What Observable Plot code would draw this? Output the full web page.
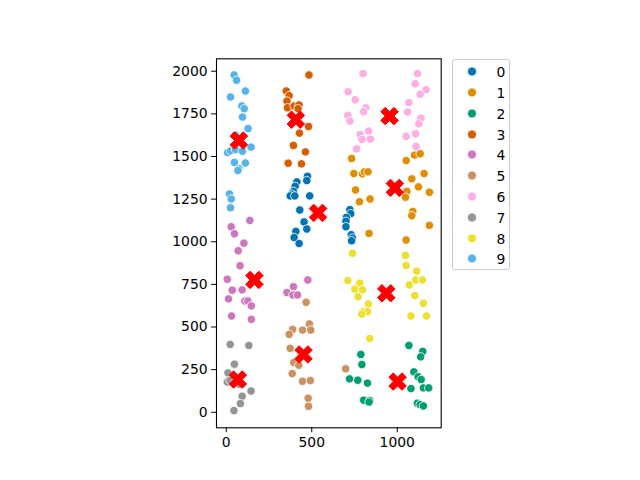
<!DOCTYPE html>
<html>
<head>
<meta charset="utf-8">
<script src="https://cdn.jsdelivr.net/npm/d3@7"></script>
<script src="https://cdn.jsdelivr.net/npm/@observablehq/plot@0.6"></script>
<style>
  html, body { margin: 0; padding: 0; background: white; }
  #wrap { position: relative; width: 640px; height: 480px; font-family: "DejaVu Sans", sans-serif; }
  #legend { position: absolute; left: 451.5px; top: 59px; width: 58px; height: 211px;
            border: 1px solid #cccccc; border-radius: 3px; background: rgba(255,255,255,0.8); box-sizing: border-box; }
  .row { position: absolute; left: 0; height: 20px; width: 58px; }
  .row svg { position: absolute; left: 10px; top: 0; }
  .row span { position: absolute; left: 44px; top: 1px; font-size: 13.9px; line-height: 18px; color: #000; }
</style>
</head>
<body>
<div id="wrap"><div id="legend"></div></div>
<script>
const clusterNames = ["0","1","2","3","4","5","6","7","8","9"];
const clusterColors = ["#0173b2","#de8f05","#029e73","#d55e00","#cc78bc","#ca9161","#fbafe4","#949494","#ece133","#56b4e9"];

const cluster0 = [[475,1384],[471,1359],[413,1351],[403,1325],[393,1296],[382,1280],[374,1269],[401,1269],[488,1269],[430,1186],[455,1116],[471,1075],[407,1061],[397,1025],[426,990],
  [723,1188],[728,1165],[703,1143],[700,1120],[700,1088],[731,1041],[738,1022],[733,1006]];
const cluster1 = [[733,1488],[746,1400],[797,1398],[808,1410],[829,1410],[756,1304],[841,1251],[779,1235],[835,1049],
  [1052,1476],[1101,1508],[1134,1516],[1157,1400],[1085,1369],[1124,1322],[1056,1296],[1048,1261],[1188,1290],[1091,1178],[1085,1153],[1188,1096],[1052,1010]];
const cluster2 = [[1068,392],[1149,357],[1137,325],[787,339],[793,280],[721,196],[769,188],[826,171],[804,71],[839,69],[835,60],
  [1097,237],[1122,208],[1140,192],[1080,139],[1153,143],[1184,143],[1118,53],[1134,45],[1153,37]];
const cluster3 = [[484,1978],[351,1884],[368,1857],[355,1825],[358,1786],[397,1796],[426,1802],[420,1780],[481,1676],[428,1637],[393,1565],[463,1527],[362,1461],[440,1457]];
const cluster4 = [[138,1125],[29,1088],[48,1047],[103,992],[70,947],[81,859],[6,780],[35,716],[93,718],[13,665],[109,653],[126,653],[147,624],[31,565],[147,545],
  [393,737],[355,702],[390,688],[417,688],[477,776]];
const cluster5 = [[467,645],[486,518],[494,482],[446,482],[388,486],[368,457],[374,375],[395,292],[424,276],[386,227],[446,182],[492,186],[479,82],[481,35],[698,255]];
const cluster6 = [[800,1986],[713,1880],[754,1833],[816,1786],[804,1763],[711,1741],[723,1708],[833,1649],[783,1629],[794,1600],[843,1602],[762,1545],
  [1118,1986],[1105,1927],[1169,1892],[1134,1865],[1068,1816],[1060,1761],[1138,1724],[1126,1692],[1107,1633],[1052,1618],[1110,1559]];
const cluster7 = [[23,398],[132,392],[48,282],[10,231],[6,178],[22,188],[50,170],[75,165],[145,125],[93,94],[83,51],[45,10]];
const cluster8 = [[738,933],[711,772],[781,757],[752,722],[797,718],[771,678],[831,635],[800,590],[826,590],[793,576],[839,433],
  [1048,920],[1052,861],[1114,828],[1107,776],[1147,776],[1070,747],[1103,684],[1153,639],[1080,565],[1171,565]];
const cluster9 = [[46,1978],[60,1947],[112,1884],[25,1849],[91,1796],[105,1780],[95,1731],[128,1664],[54,1625],[8,1523],[25,1533],[54,1541],[94,1531],[145,1555],
  [48,1465],[112,1462],[74,1429],[68,1418],[19,1280],[29,1251],[25,1200]];

const centroidX = [537, 986, 1002, 407, 165, 452, 955, 68, 936, 74];
const centroidY = [1169, 1316, 180, 1716, 776, 339, 1737, 192, 698, 1594];

const xTicks = [0, 500, 1000];
const yTicks = [0, 250, 500, 750, 1000, 1250, 1500, 1750, 2000];

const clusters = [cluster0, cluster1, cluster2, cluster3, cluster4, cluster5, cluster6, cluster7, cluster8, cluster9];
const points = clusters.flatMap((pts, i) => pts.map(([x, y]) => ({x, y, c: clusterNames[i]})));
const centroids = centroidX.map((x, i) => ({x, y: centroidY[i]}));

// matplotlib-like filled "X" marker
const W = 17.5;
const xPoly = [[-0.25,-0.5],[0,-0.25],[0.25,-0.5],[0.5,-0.25],[0.25,0],[0.5,0.25],[0.25,0.5],[0,0.25],[-0.25,0.5],[-0.5,0.25],[-0.25,0],[-0.5,-0.25]];
const filledX = {
  draw(context, size) {
    xPoly.forEach(([a, b], i) => i ? context.lineTo(a * W, b * W) : context.moveTo(a * W, b * W));
    context.closePath();
  }
};

const chart = Plot.plot({
  width: 640,
  height: 480,
  marginLeft: 216,
  marginRight: 199.3,
  marginTop: 58.3,
  marginBottom: 52.7,
  style: {fontFamily: "DejaVu Sans, sans-serif", fontSize: "13.9px", color: "black", background: "white", overflow: "visible"},
  x: {domain: [-57, 1257]},
  y: {domain: [-91, 2073]},
  color: {domain: clusterNames, range: clusterColors},
  marks: [
    Plot.dot(points, {x: "x", y: "y", fill: "c", r: 4.2, stroke: "white", strokeWidth: 0.8}),
    Plot.dot(centroids, {x: "x", y: "y", symbol: filledX, r: 6, fill: "red", stroke: "red", strokeWidth: 1}),
    Plot.frame({stroke: "black", strokeWidth: 1.1}),
    Plot.axisX({ticks: xTicks, tickSize: 4.9, tickPadding: 4, label: null, tickFormat: d => String(d)}),
    Plot.axisY({ticks: yTicks, tickSize: 4.9, tickPadding: 4, label: null, tickFormat: d => String(d)})
  ]
});
document.getElementById("wrap").prepend(chart);
chart.style.position = "absolute";
chart.style.left = "0";
chart.style.top = "0";

const legend = document.getElementById("legend");
clusterNames.forEach((name, i) => {
  const row = document.createElement("div");
  row.className = "row";
  row.style.top = (2.2 + i * 20.8) + "px";
  row.innerHTML = `<svg width="18" height="20"><circle cx="9" cy="9.5" r="4.5" fill="${clusterColors[i]}" stroke="white" stroke-width="0.8"/></svg><span>${name}</span>`;
  legend.appendChild(row);
});
</script>
</body>
</html>
